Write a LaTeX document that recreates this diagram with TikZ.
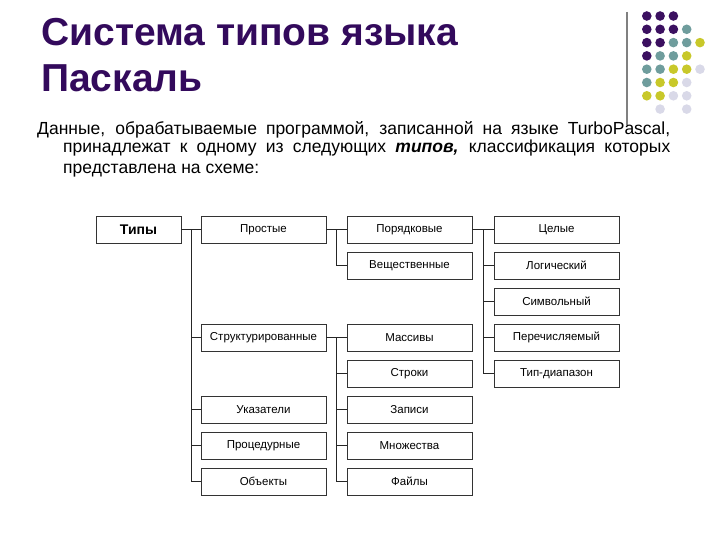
\documentclass[tikz,border=0pt]{standalone}
\usepackage{fontspec}
\setmainfont{Liberation Sans}
\usetikzlibrary{calc}
\definecolor{titlepurple}{HTML}{330A5C}
\definecolor{dp}{HTML}{3B1060}
\definecolor{dt}{HTML}{6F9D9D}
\definecolor{dy}{HTML}{C8C82A}
\definecolor{dl}{HTML}{D9D9E8}
\tikzset{typebox/.style={draw=black!80,line width=0.8pt,minimum width=125pt,minimum height=27pt,inner sep=0pt,font=\fontsize{11.5}{13}\selectfont},
         link/.style={draw=black!85,line width=0.7pt},
         bodyline/.style={anchor=base west,inner sep=0pt,font=\fontsize{17.5}{20}\selectfont}}

\begin{document}
\begin{tikzpicture}[x=1pt,y=-1pt]
                \useasboundingbox (0,0) rectangle (720,540);

                % decoration
                \draw[gray,line width=1.5pt] (627,12) -- (627,125);
                \foreach \r/\c/\col in {1/1/dp,1/2/dp,1/3/dp,
                                        2/1/dp,2/2/dp,2/3/dp,2/4/dt,
                                        3/1/dp,3/2/dp,3/3/dt,3/4/dt,3/5/dy,
                                        4/1/dp,4/2/dt,4/3/dt,4/4/dy,
                                        5/1/dt,5/2/dt,5/3/dy,5/4/dy,5/5/dl,
                                        6/1/dt,6/2/dy,6/3/dy,6/4/dl,
                                        7/1/dy,7/2/dy,7/3/dl,7/4/dl,
                                        8/2/dl,8/4/dl}
                    \fill[\col] (633.5+13.3*\c,2.7+13.3*\r) circle (4.8);

                % title and text
                \node[anchor=base west,inner sep=0pt,text=titlepurple,font=\bfseries\fontsize{39}{46}\selectfont] (title1) at (41,46) {Система типов языка};
                \node[anchor=base west,inner sep=0pt,text=titlepurple,font=\bfseries\fontsize{39}{46}\selectfont] (title2) at (41,92) {Паскаль};
                \node[bodyline] (line1) at (37,135) {\makebox[633pt][s]{Данные, обрабатываемые программой, записанной на языке TurboPascal,}};
                \node[bodyline] (line2) at (63,153) {\makebox[607pt][s]{принадлежат к одному из следующих \textbf{\textit{типов,}} классификация которых}};
                \node[bodyline] (line3) at (63,174) {представлена на схеме:};

                % boxes
                \node[typebox,minimum width=85pt,font=\bfseries\fontsize{14}{16}\selectfont] (types) at (138.5,229.5) {Типы};

                \node[typebox] (prost)  at (263.5,229.5) {Простые};
                \node[typebox] (struct) at (263.5,337.5) {Структурированные};
                \node[typebox] (ukaz)   at (263.5,409.5) {Указатели};
                \node[typebox] (proc)   at (263.5,445.5) {Процедурные};
                \node[typebox] (obj)    at (263.5,481.5) {Объекты};

                \node[typebox] (poryad) at (409.5,229.5) {Порядковые};
                \node[typebox] (vesch)  at (409.5,265.5) {Вещественные};
                \node[typebox] (mass)   at (409.5,337.5) {Массивы};
                \node[typebox] (strok)  at (409.5,373.5) {Строки};
                \node[typebox] (zap)    at (409.5,409.5) {Записи};
                \node[typebox] (mnozh)  at (409.5,445.5) {Множества};
                \node[typebox] (fail)   at (409.5,481.5) {Файлы};

                \node[typebox] (cel)    at (556.5,229.5) {Целые};
                \node[typebox] (log)    at (556.5,265.5) {Логический};
                \node[typebox] (simv)   at (556.5,301.5) {Символьный};
                \node[typebox] (perech) at (556.5,337.5) {Перечисляемый};
                \node[typebox] (diap)   at (556.5,373.5) {Тип-диапазон};

                % links
                \coordinate (t1) at ($(types.east)!.5!(prost.west)$);
                \coordinate (t2) at ($(prost.east)!.5!(poryad.west)$);
                \coordinate (t3) at ($(struct.east)!.5!(mass.west)$);
                \coordinate (t4) at ($(poryad.east)!.5!(cel.west)$);
                \draw[link] (types) -- (prost);
                \draw[link] (prost) -- (poryad);
                \draw[link] (struct) -- (mass);
                \draw[link] (poryad) -- (cel);
                \foreach \n in {struct,ukaz,proc,obj}
                    \draw[link] (t1) |- (\n);
                \draw[link] (t2) |- (vesch);
                \foreach \n in {strok,zap,mnozh,fail}
                    \draw[link] (t3) |- (\n);
                \foreach \n in {log,simv,perech,diap}
                    \draw[link] (t4) |- (\n);
\end{tikzpicture}
\end{document}
